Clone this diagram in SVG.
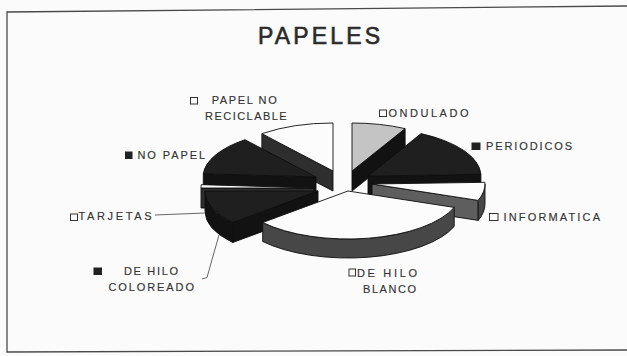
<svg xmlns="http://www.w3.org/2000/svg" width="627" height="356" viewBox="0 0 627 356">
<style>
  .bg{fill:#fbfbfb}
  .frame{fill:none;stroke:#4a4a4a;stroke-width:1.3}
  .f{stroke:#0e0e0e;stroke-width:0.9;stroke-linejoin:round}
  .dtop{fill:#1f1f1f}
  .dside{fill:#121212}
  .wtop{fill:#fcfcfc}
  .wside{fill:#2e2e2e}
  .gside{fill:#474747}
  .gface{fill:#5e5e5e}
  .ltop{fill:#c4c4c4}
  .lbl{font-family:"Liberation Sans",Arial,sans-serif;font-size:11px;fill:#333;stroke:#333;stroke-width:0.15}
  .title{font-family:"Liberation Sans",Arial,sans-serif;font-size:23px;fill:#2a2a2a;stroke:#2a2a2a;stroke-width:0.6}
  .sqw{fill:#fcfcfc;stroke:#333;stroke-width:1}
  .sqd{fill:#222;stroke:#222;stroke-width:1}
  .lead{fill:none;stroke:#555;stroke-width:0.9}
</style>
<rect class="bg" x="0" y="0" width="627" height="356"/>
<path class="frame" d="M627,6 L7,12 L7,352 L627,350"/>
<text class="title" x="258" y="44" textLength="122" lengthAdjust="spacing">PAPELES</text>

<g id="slice-papel-no-reciclable">
  <path class="f wside" d="M333,171 L261.9,133.7 L261.9,153.7 L333,191 Z"/>
  <path class="f wtop" d="M333,171 L333,123 A113,48 0 0 0 261.9,133.7 Z"/>
</g>
<g id="slice-ondulado">
  <path class="f dside" d="M352,171 L405.1,128.6 L405.1,148.6 L352,191 Z"/>
  <path class="f ltop" d="M352,171 L352,123 A113,48 0 0 1 405.1,128.6 Z"/>
</g>
<g id="slice-no-papel">
  <path class="f dside" d="M316,177 L203.3,173.65 L203.3,193.65 L316,197 Z"/>
  <path class="f dtop" d="M316,177 L244.9,139.7 A113,48 0 0 0 203.3,173.65 Z"/>
</g>
<g id="slice-periodicos">
  <path class="f dside" d="M368,176 L480.9,174.3 L480.9,194.3 L368,196 Z"/>
  <path class="f dtop" d="M368,176 L421.1,133.6 A113,48 0 0 1 480.9,174.3 Z"/>
</g>
<g id="slice-tarjetas">
  <path class="f wside" d="M314,188 L201,188 L201,208 L314,208 Z"/>
  <path class="f wtop" d="M314,188 L201.3,184.65 A113,48 0 0 0 201,188 Z"/>
</g>
<g id="slice-informatica">
  <path class="f gface" d="M372,184 L478.2,200.4 L478.2,220.4 L372,204 Z"/>
  <path class="f gside" d="M485,184 A113,48 0 0 1 478.2,200.4 L478.2,220.4 A113,48 0 0 0 485,204 Z"/>
  <path class="f wtop" d="M372,184 L484.9,182.3 A113,48 0 0 1 478.2,200.4 Z"/>
</g>
<g id="slice-de-hilo-coloreado">
  <path class="f dside" d="M318,191 L232.7,222.5 L232.7,242.5 L318,211 Z"/>
  <path class="f dside" d="M205,191 A113,48 0 0 0 232.7,222.5 L232.7,242.5 A113,48 0 0 1 205,211 Z"/>
  <path class="f dtop" d="M318,191 L205,191 A113,48 0 0 0 232.7,222.5 Z"/>
</g>
<g id="slice-de-hilo-blanco">
  <path class="f gside" d="M454.2,207.4 A113,48 0 0 1 262.7,222.5 L262.7,241.5 A113,48 0 0 0 454.2,226.4 Z"/>
  <path class="f wtop" d="M348,191 L454.2,207.4 A113,48 0 0 1 262.7,222.5 Z"/>
</g>

<g id="connectors">
  <path class="lead" d="M155,215 L205,213"/>
  <path class="lead" d="M202,279 L207,277.5 L219,235"/>
</g>

<g id="label-papel-no-reciclable">
  <rect class="sqw" x="190.5" y="97.5" width="7" height="6.5"/>
  <text class="lbl" x="211.7" y="103.5" textLength="65" lengthAdjust="spacing">PAPEL NO</text>
  <text class="lbl" x="205" y="120" textLength="81.7" lengthAdjust="spacing">RECICLABLE</text>
</g>
<g id="label-ondulado">
  <rect class="sqw" x="379.5" y="110" width="7" height="6.5"/>
  <text class="lbl" x="388.5" y="116.7" textLength="80" lengthAdjust="spacing">ONDULADO</text>
</g>
<g id="label-periodicos">
  <rect class="sqd" x="472" y="143" width="8" height="6.5"/>
  <text class="lbl" x="486" y="150" textLength="86" lengthAdjust="spacing">PERIODICOS</text>
</g>
<g id="label-informatica">
  <rect class="sqw" x="489.5" y="213.5" width="8.5" height="7"/>
  <text class="lbl" x="503.5" y="220.7" textLength="96.5" lengthAdjust="spacing">INFORMATICA</text>
</g>
<g id="label-de-hilo-blanco">
  <rect class="sqw" x="349" y="269" width="6.5" height="7"/>
  <text class="lbl" x="357" y="277" textLength="60" lengthAdjust="spacing">DE HILO</text>
  <text class="lbl" x="363" y="293" textLength="53" lengthAdjust="spacing">BLANCO</text>
</g>
<g id="label-de-hilo-coloreado">
  <rect class="sqd" x="94" y="268" width="7.5" height="6.5"/>
  <text class="lbl" x="124" y="275" textLength="54" lengthAdjust="spacing">DE HILO</text>
  <text class="lbl" x="108.5" y="291" textLength="85.5" lengthAdjust="spacing">COLOREADO</text>
</g>
<g id="label-tarjetas">
  <rect class="sqw" x="70.5" y="214" width="7" height="6.5"/>
  <text class="lbl" x="78.5" y="220.3" textLength="73" lengthAdjust="spacing">TARJETAS</text>
</g>
<g id="label-no-papel">
  <rect class="sqd" x="125.5" y="152" width="6.5" height="6.5"/>
  <text class="lbl" x="137.5" y="159" textLength="67.5" lengthAdjust="spacing">NO PAPEL</text>
</g>
</svg>
